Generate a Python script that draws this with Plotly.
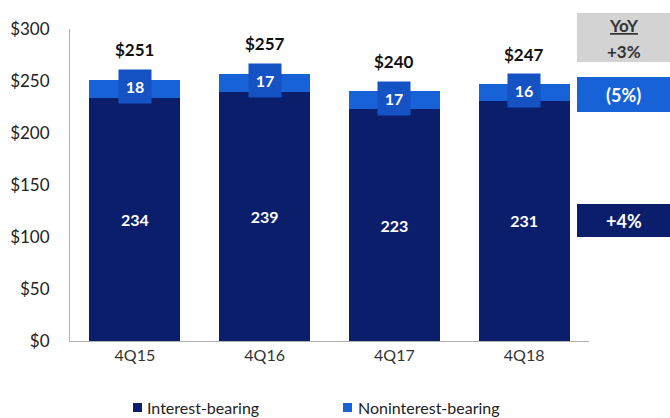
import plotly.graph_objects as go

# Deposit balances ($B) by quarter
quarters = ["4Q15", "4Q16", "4Q17", "4Q18"]
interest_bearing = [233.6, 239.4, 223.0, 231.0]
noninterest_bearing = [17.6, 17.4, 17.0, 16.0]
totals = [round(a + b, 1) for a, b in zip(interest_bearing, noninterest_bearing)]
series_names = ["Interest-bearing", "Noninterest-bearing"]

# Year-over-year change labels (total, noninterest, interest)
yoy_total = "+3%"
yoy_nonint = "(5%)"
yoy_int = "+4%"

NAVY = "#0a1e6c"
BLUE = "#1762d6"
BOX_BLUE = "#1552c4"
FONT = "Lato, 'Open Sans', sans-serif"

W, H = 670, 418


def px(x):
    return x / W


def py(y):
    return (H - y) / H


fig = go.Figure()
fig.add_bar(
    x=quarters, y=interest_bearing, name=series_names[0],
    marker=dict(color=NAVY, line=dict(width=0)),
    text=[f"{round(v)}" for v in interest_bearing],
    textposition="inside", insidetextanchor="middle",
    textfont=dict(color="white", size=16, family=FONT, weight="bold"),
    hoverinfo="skip",
)
fig.add_bar(
    x=quarters, y=noninterest_bearing, name=series_names[1],
    marker=dict(color=BLUE, line=dict(width=0)),
    hoverinfo="skip",
)

annotations = []
for q, ib, nb, tot in zip(quarters, interest_bearing, noninterest_bearing, totals):
    # noninterest value in a small box straddling the top segment
    annotations.append(dict(
        x=q, y=ib + nb / 2 + 2, xref="x", yref="y",
        text=f"<b>{round(nb)}</b>", showarrow=False,
        font=dict(color="white", size=16, family=FONT),
        bgcolor=BOX_BLUE, width=30, height=31, borderpad=1,
    ))
    # total above each bar
    annotations.append(dict(
        x=q, y=tot, xref="x", yref="y", yshift=30,
        text=f"<b>${round(tot)}</b>", showarrow=False,
        font=dict(color="#111111", size=17, family=FONT),
    ))

# YoY column on the right
cx = px(623.5)
yoy_common = dict(x=cx, xref="paper", yref="paper", showarrow=False,
                  xanchor="center", yanchor="middle")
annotations += [
    dict(yoy_common, y=py(26), text="<b><u>YoY</u></b>",
         font=dict(color="#333333", size=17, family=FONT)),
    dict(yoy_common, y=py(52), text="<b>" + yoy_total + "</b>",
         font=dict(color="#333333", size=17, family=FONT)),
    dict(yoy_common, y=py(95), text="<b>" + yoy_nonint + "</b>",
         font=dict(color="white", size=18, family=FONT)),
    dict(yoy_common, y=py(221), text="<b>" + yoy_int + "</b>",
         font=dict(color="white", size=18, family=FONT)),
]

shapes = [
    dict(type="rect", xref="paper", yref="paper", x0=px(577), x1=1.0,
         y0=py(62), y1=py(13), fillcolor="#d3d3d3", line=dict(width=0), layer="below"),
    dict(type="rect", xref="paper", yref="paper", x0=px(577), x1=1.0,
         y0=py(112), y1=py(77), fillcolor=BLUE, line=dict(width=0), layer="below"),
    dict(type="rect", xref="paper", yref="paper", x0=px(577), x1=1.0,
         y0=py(237), y1=py(204), fillcolor=NAVY, line=dict(width=0), layer="below"),
]

# Legend drawn as swatches + labels below the axis
for (x0, tx), name, col in zip([(133, 145), (343, 356)], series_names, [NAVY, BLUE]):
    shapes.append(dict(type="rect", xref="paper", yref="paper", x0=px(x0), x1=px(x0 + 9),
                       y0=py(412), y1=py(403), fillcolor=col, line=dict(width=0)))
    annotations.append(dict(x=px(tx), y=py(407), xref="paper", yref="paper",
                            xanchor="left", yanchor="middle", showarrow=False,
                            text=name, font=dict(size=16, color="#222222", family=FONT)))

fig.update_layout(
    width=W, height=H,
    margin=dict(l=0, r=0, t=0, b=0, autoexpand=False),
    barmode="stack", bargap=0.3,
    plot_bgcolor="white", paper_bgcolor="white",
    font=dict(family=FONT, color="#333333", size=15),
    showlegend=False,
    annotations=annotations, shapes=shapes,
    xaxis=dict(domain=[px(70), px(589)], showline=True, linecolor="#b0b0b0",
               linewidth=1, ticks="", tickfont=dict(size=16, color="#333333"),
               fixedrange=True),
    yaxis=dict(domain=[py(341), py(29)], range=[0, 300], dtick=50, tickprefix="$",
               showgrid=False, showline=True, linecolor="#b0b0b0", linewidth=1,
               ticks="", zeroline=False, tickfont=dict(size=17, color="#222222"),
               ticklabelstandoff=16),
)

fig.write_html("out.html")
